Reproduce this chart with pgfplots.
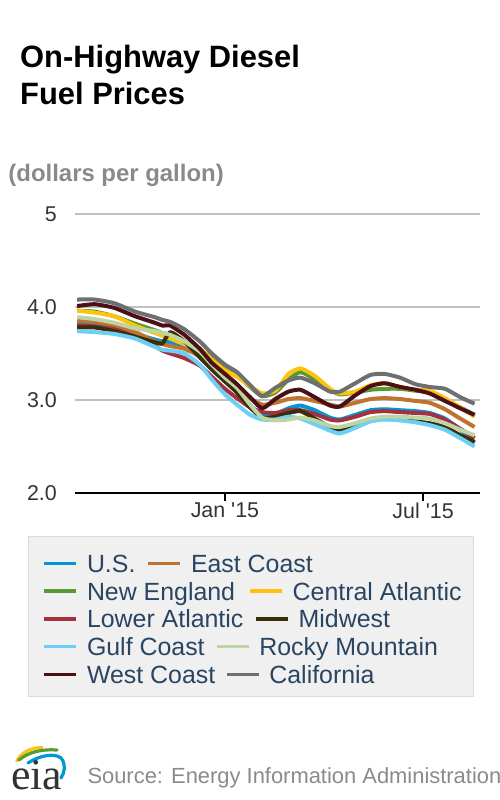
\documentclass[border=0pt]{standalone}
\usepackage{fontspec}
\setmainfont{Liberation Sans}
\newfontfamily\seriffont{Liberation Serif}
\usepackage{pgfplots}
\usepackage{pgfplotstable}
\pgfplotsset{compat=1.18}

\definecolor{us}{HTML}{0096D7}
\definecolor{ec}{HTML}{BF7330}
\definecolor{ne}{HTML}{5A9A32}
\definecolor{cat}{HTML}{FFC20E}
\definecolor{la}{HTML}{A5303E}
\definecolor{mw}{HTML}{3B2E06}
\definecolor{gc}{HTML}{6CCFF6}
\definecolor{rm}{HTML}{BDD5A5}
\definecolor{wc}{HTML}{4B1016}
\definecolor{cal}{HTML}{6E6F71}
\definecolor{gridgray}{HTML}{C0C0C0}
\definecolor{tickcol}{HTML}{333333}
\definecolor{legtext}{HTML}{2A4562}
\definecolor{legbg}{HTML}{F0F0F0}
\definecolor{legborder}{HTML}{DCDCDC}
\definecolor{srcgray}{HTML}{8A8A8A}

% x = days from 1 Jan 2015, weekly-ish readings
\pgfplotstableread{
d    us   ec   ne   cat  la   mw   gc   rm   wc   cal
-135 3.82 3.85 3.96 3.96 3.80 3.78 3.74 3.89 4.01 4.08
-119 3.81 3.84 3.95 3.94 3.79 3.78 3.73 3.87 4.03 4.08
-101 3.78 3.80 3.90 3.90 3.76 3.74 3.71 3.83 3.99 4.04
-82  3.71 3.73 3.82 3.80 3.68 3.68 3.66 3.77 3.90 3.95
-64  3.65 3.63 3.75 3.72 3.58 3.62 3.57 3.74 3.83 3.89
-57  3.63 3.60 3.72 3.69 3.53 3.61 3.54 3.72 3.80 3.86
-50  3.62 3.58 3.70 3.66 3.50 3.73 3.53 3.70 3.80 3.84
-37  3.58 3.55 3.62 3.60 3.45 3.63 3.50 3.63 3.70 3.76
-23  3.46 3.47 3.55 3.55 3.37 3.46 3.38 3.52 3.55 3.63
-12  3.33 3.36 3.44 3.43 3.25 3.33 3.22 3.38 3.40 3.50
0    3.20 3.24 3.33 3.32 3.12 3.20 3.06 3.24 3.28 3.38
11   3.09 3.14 3.26 3.25 3.02 3.08 2.95 3.13 3.17 3.30
23   2.94 3.02 3.14 3.15 2.92 2.92 2.84 2.95 3.03 3.16
34   2.84 2.95 3.04 3.07 2.87 2.81 2.79 2.81 2.91 3.04
46   2.85 2.97 3.08 3.10 2.86 2.82 2.79 2.78 3.01 3.13
58   2.91 3.01 3.22 3.28 2.89 2.86 2.82 2.79 3.09 3.21
69   2.94 3.02 3.30 3.34 2.89 2.88 2.80 2.81 3.11 3.24
82   2.89 2.99 3.22 3.26 2.85 2.80 2.74 2.78 3.03 3.18
96   2.81 2.95 3.11 3.12 2.79 2.71 2.67 2.72 2.94 3.09
105  2.79 2.93 3.06 3.07 2.78 2.68 2.64 2.71 2.93 3.09
119  2.84 2.97 3.08 3.09 2.82 2.73 2.70 2.75 3.05 3.18
133  2.89 3.01 3.11 3.16 2.87 2.79 2.77 2.80 3.15 3.27
146  2.90 3.02 3.12 3.18 2.88 2.81 2.79 2.82 3.18 3.28
160  2.89 3.01 3.12 3.14 2.87 2.79 2.78 2.82 3.14 3.24
174  2.88 2.99 3.10 3.11 2.86 2.77 2.76 2.81 3.11 3.17
187  2.86 2.97 3.08 3.10 2.85 2.75 2.73 2.80 3.07 3.14
201  2.80 2.90 3.00 3.02 2.79 2.71 2.68 2.75 2.99 3.12
215  2.68 2.80 2.92 2.92 2.69 2.62 2.59 2.68 2.91 3.03
228  2.54 2.71 2.84 2.82 2.59 2.55 2.50 2.62 2.84 2.96
}\prices

\newcommand\legfont{\fontsize{25}{28}\selectfont}
\newcommand\legitem[4]{%
  \draw[#3, line width=3.5bp] (#1,{236.7-27.75*#2}) -- ++(32,0);
  \node[anchor=base west, inner sep=0pt, text=legtext, font=\legfont]
    at ({#1+42.5},{227.7-27.75*#2}) {#4};}

\begin{document}
\begin{tikzpicture}[x=1bp,y=1bp]
\useasboundingbox (0,0) rectangle (500,800);

\node[anchor=base west, inner sep=0pt, font=\fontsize{31}{37}\selectfont\bfseries]
  at (20,732.7) {On-Highway Diesel};
\node[anchor=base west, inner sep=0pt, font=\fontsize{31}{37}\selectfont\bfseries]
  at (20,695) {Fuel Prices};
\node[anchor=base west, inner sep=0pt, text=srcgray, font=\fontsize{24}{28}\selectfont\bfseries]
  at (8.3,618.3) {(dollars per gallon)};

\begin{axis}[
  at={(75bp,307bp)}, anchor=south west,
  scale only axis, width=405bp, height=279bp,
  xmin=-137, xmax=233, ymin=2, ymax=5,
  axis x line*=bottom, axis y line*=left,
  y axis line style={draw=none},
  x axis line style={black, line width=2.2bp},
  xtick={0,181}, xticklabels={Jan \textquotesingle15, Jul \textquotesingle15},
  ytick={2,3,4,5}, yticklabels={2.0,3.0,4.0,5},
  ymajorgrids, grid style={color=gridgray, line width=1.6bp},
  tick align=outside, major tick length=8bp,
  ytick style={draw=none}, xtick style={black, line width=1.5bp},
  ticklabel style={font=\fontsize{21.5}{24}\selectfont, text=tickcol},
  xticklabel style={inner sep=2bp},
  yticklabel style={inner sep=0pt, xshift=-10bp},
  every axis plot/.append style={line width=4bp, line join=round, smooth, tension=0.35},
]
\addplot[us]  table[x=d, y=us]  {\prices};
\addplot[ec]  table[x=d, y=ec]  {\prices};
\addplot[ne]  table[x=d, y=ne]  {\prices};
\addplot[cat] table[x=d, y=cat] {\prices};
\addplot[la]  table[x=d, y=la]  {\prices};
\addplot[mw]  table[x=d, y=mw]  {\prices};
\addplot[gc]  table[x=d, y=gc]  {\prices};
\addplot[rm]  table[x=d, y=rm]  {\prices};
\addplot[wc]  table[x=d, y=wc]  {\prices};
\addplot[cal] table[x=d, y=cal] {\prices};
\end{axis}

\draw[fill=legbg, draw=legborder, line width=1bp] (28.3,103.3) rectangle (473.3,263.3);
\legitem{44.3}{0}{us}{U.S.}
\legitem{148.3}{0}{ec}{East Coast}
\legitem{44.3}{1}{ne}{New England}
\legitem{250}{1}{cat}{Central Atlantic}
\legitem{44.3}{2}{la}{Lower Atlantic}
\legitem{256}{2}{mw}{Midwest}
\legitem{44.3}{3}{gc}{Gulf Coast}
\legitem{216.7}{3}{rm}{Rocky Mountain}
\legitem{44.3}{4}{wc}{West Coast}
\legitem{226.7}{4}{cal}{California}

% eia logo
\draw[cat, line width=3.2bp, line cap=round] (16.7,39) .. controls (22,48) and (30,52) .. (42,52.5);
\draw[ne, line width=3.2bp, line cap=round] (19,40) .. controls (29,48.5) and (43,51) .. (57,50);
\draw[us, line width=3.2bp, line cap=round] (28,37) .. controls (40,45) and (55,47) .. (61,42)
  .. controls (66,36) and (65,28) .. (61,22);
\node[anchor=base west, inner sep=0pt, text=tickcol, font=\seriffont\fontsize{44}{44}\selectfont]
  at (11,10) {eia};
\node[anchor=base west, inner sep=0pt, text=srcgray, font=\fontsize{22}{26}\selectfont]
  at (87.3,16.7) {Source: Energy Information Administration};
\end{tikzpicture}
\end{document}
